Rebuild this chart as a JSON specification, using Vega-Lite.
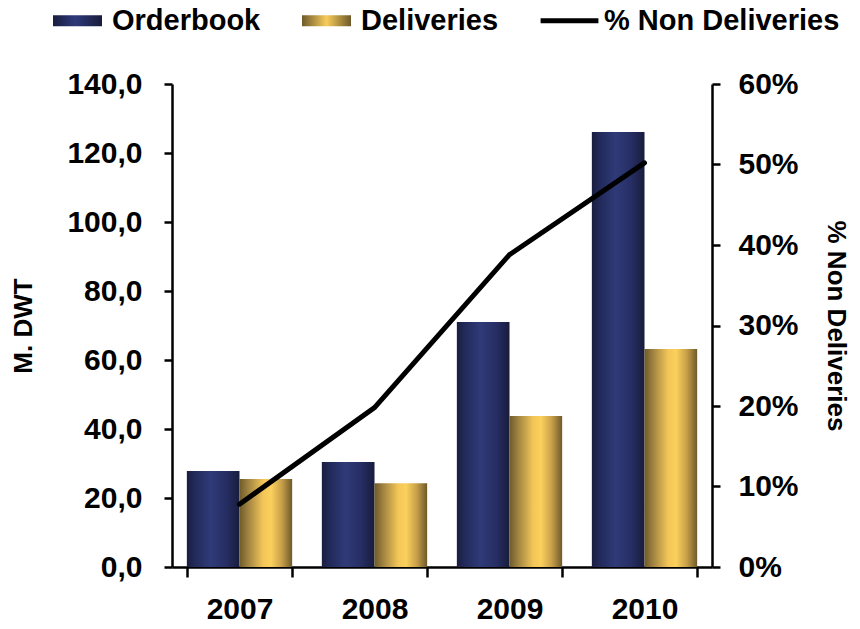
{
  "$schema": "https://vega.github.io/schema/vega-lite/v6.json",
  "width": 540,
  "height": 483,
  "autosize": "none",
  "padding": {"left": 172, "top": 84, "right": 148, "bottom": 62},
  "config": {
    "view": {"stroke": null},
    "font": "Liberation Sans",
    "axis": {
      "grid": false,
      "domainColor": "#000000",
      "domainWidth": 2.5,
      "tickColor": "#000000",
      "tickWidth": 2.5,
      "labelFont": "Liberation Sans",
      "labelFontWeight": "bold",
      "labelColor": "#000000",
      "titleFont": "Liberation Sans",
      "titleFontWeight": "bold",
      "titleColor": "#000000"
    }
  },
  "data": {
    "values": [
      {"year": "2007", "series": "Orderbook", "value": 27.8},
      {"year": "2007", "series": "Deliveries", "value": 25.5},
      {"year": "2008", "series": "Orderbook", "value": 30.4},
      {"year": "2008", "series": "Deliveries", "value": 24.3},
      {"year": "2009", "series": "Orderbook", "value": 71.0},
      {"year": "2009", "series": "Deliveries", "value": 43.8},
      {"year": "2010", "series": "Orderbook", "value": 126.1},
      {"year": "2010", "series": "Deliveries", "value": 63.2}
    ]
  },
  "layer": [
    {
      "mark": {"type": "bar"},
      "encoding": {
        "x": {
          "field": "year",
          "type": "nominal",
          "scale": {"paddingInner": 0.22, "paddingOuter": 0.11},
          "axis": {
            "title": null,
            "labelAngle": 0,
            "labelFontSize": 30,
            "labelPadding": 17,
            "tickSize": 10,
            "tickBand": "extent"
          }
        },
        "xOffset": {
          "field": "series",
          "type": "nominal",
          "scale": {"domain": ["Orderbook", "Deliveries"], "paddingInner": 0, "paddingOuter": 0}
        },
        "y": {
          "field": "value",
          "type": "quantitative",
          "scale": {"domain": [0, 140], "nice": false},
          "axis": {
            "title": "M. DWT",
            "values": [0, 20, 40, 60, 80, 100, 120, 140],
            "labelExpr": "replace(format(datum.value, '.1f'), '.', ',')",
            "labelFontSize": 30,
            "labelPadding": 22,
            "tickSize": 8,
            "titleFontSize": 26,
            "titlePadding": 30
          }
        },
        "fill": {
          "condition": {
            "test": "datum.series === 'Orderbook'",
            "value": {
              "gradient": "linear", "x1": 0, "y1": 0, "x2": 1, "y2": 0,
              "stops": [
                {"offset": 0, "color": "#191d3f"},
                {"offset": 0.15, "color": "#222a5a"},
                {"offset": 0.45, "color": "#2f3a78"},
                {"offset": 0.75, "color": "#262e63"},
                {"offset": 1, "color": "#181c3c"}
              ]
            }
          },
          "value": {
            "gradient": "linear", "x1": 0, "y1": 0, "x2": 1, "y2": 0,
            "stops": [
              {"offset": 0, "color": "#6e5a2a"},
              {"offset": 0.15, "color": "#9c8040"},
              {"offset": 0.45, "color": "#f3c658"},
              {"offset": 0.6, "color": "#fbd05c"},
              {"offset": 0.8, "color": "#c8a04a"},
              {"offset": 1, "color": "#6e5a2a"}
            ]
          }
        }
      }
    },
    {
      "data": {
        "values": [
          {"year": "2007", "series": "% Non Deliveries", "pct": 0.078},
          {"year": "2008", "series": "% Non Deliveries", "pct": 0.198},
          {"year": "2009", "series": "% Non Deliveries", "pct": 0.388},
          {"year": "2010", "series": "% Non Deliveries", "pct": 0.502}
        ]
      },
      "mark": {"type": "line", "strokeWidth": 5, "strokeCap": "round"},
      "encoding": {
        "x": {"field": "year", "type": "nominal"},
        "y": {
          "field": "pct",
          "type": "quantitative",
          "scale": {"domain": [0, 0.6], "nice": false},
          "axis": {
            "orient": "right",
            "title": "% Non Deliveries",
            "values": [0, 0.1, 0.2, 0.3, 0.4, 0.5, 0.6],
            "format": ".0%",
            "labelFontSize": 30,
            "labelPadding": 18,
            "tickSize": 8,
            "titleFontSize": 26,
            "titlePadding": 24
          }
        },
        "color": {
          "field": "series",
          "type": "nominal",
          "scale": {
            "domain": ["Orderbook", "Deliveries", "% Non Deliveries"],
            "range": ["#2b3470", "#d9ad4a", "#000000"]
          },
          "legend": {
            "orient": "none",
            "legendX": -119,
            "legendY": -88,
            "direction": "horizontal",
            "title": null,
            "labelFont": "Liberation Sans",
            "labelFontSize": 29,
            "labelFontWeight": "bold",
            "labelColor": "#000000",
            "labelLimit": 400,
            "labelOffset": 10,
            "columnPadding": 41,
            "symbolSize": 2401,
            "symbolOpacity": 1,
            "encode": {
              "symbols": {
                "update": {
                  "shape": {"signal": "datum.value === '% Non Deliveries' ? 'M-1.18,-0.1H1.18V0.1H-1.18Z' : 'M-1,-0.22H1V0.22H-1Z'"},
                  "fill": [
                    {
                      "test": "datum.value === 'Orderbook'",
                      "value": {
                        "gradient": "linear", "x1": 0, "y1": 0, "x2": 1, "y2": 0,
                        "stops": [
                          {"offset": 0, "color": "#191d3f"},
                          {"offset": 0.45, "color": "#2f3a78"},
                          {"offset": 1, "color": "#181c3c"}
                        ]
                      }
                    },
                    {
                      "test": "datum.value === 'Deliveries'",
                      "value": {
                        "gradient": "linear", "x1": 0, "y1": 0, "x2": 1, "y2": 0,
                        "stops": [
                          {"offset": 0, "color": "#6e5a2a"},
                          {"offset": 0.5, "color": "#f7cc5a"},
                          {"offset": 1, "color": "#6e5a2a"}
                        ]
                      }
                    },
                    {"value": "#000000"}
                  ],
                  "strokeWidth": {"value": 0},
                  "opacity": {"value": 1}
                }
              }
            }
          }
        }
      }
    }
  ],
  "resolve": {"scale": {"y": "independent"}}
}
